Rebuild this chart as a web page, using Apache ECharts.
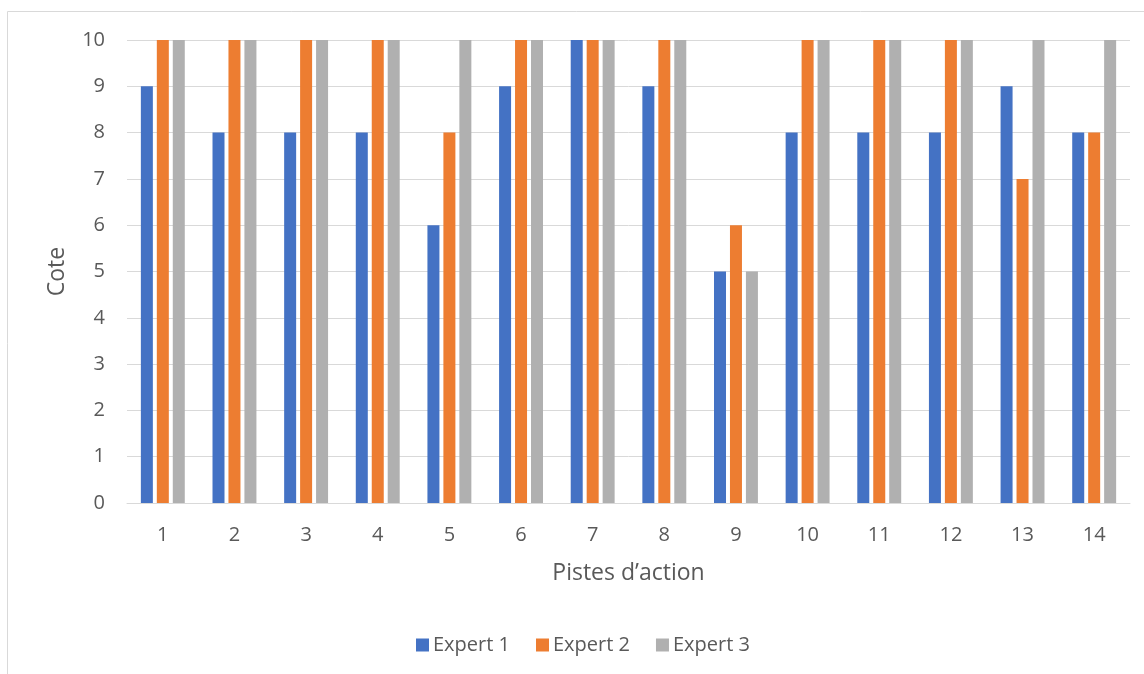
<!DOCTYPE html>
<html>
<head>
<meta charset="utf-8">
<script src="https://cdn.jsdelivr.net/npm/echarts@6/dist/echarts.min.js"></script>
<style>html,body{margin:0;padding:0;background:#fff;}#c{width:1144px;height:674px;}</style>
</head>
<body>
<div id="c"></div>
<script>
const categories = ['1','2','3','4','5','6','7','8','9','10','11','12','13','14'];
const expert1 = [9,8,8,8,6,9,10,9,5,8,8,8,9,8];
const expert2 = [10,10,10,10,8,10,10,10,6,10,10,10,7,8];
const expert3 = [10,10,10,10,10,10,10,10,5,10,10,10,10,10];
const seriesNames = ['Expert 1','Expert 2','Expert 3'];
const colors = ['#4472C4','#ED7D31','#B0B0B0'];

const chart = echarts.init(document.getElementById('c'), null, {renderer:'canvas'});
const font = 'Open Sans';
const txt = '#595959';
chart.setOption({
  animation:false,
  color: colors,
  textStyle:{fontFamily:font},
  graphic:[{type:'rect', shape:{x:7.5,y:11.5,width:1300,height:800}, style:{fill:'none',stroke:'#d9d9d9',lineWidth:1}, silent:true, z:-10}],
  grid:{left:127,right:14,top:40,bottom:171,containLabel:false},
  legend:{top:630,left:411,itemWidth:13,itemHeight:13,itemGap:26,icon:'rect',
    textStyle:{color:txt,fontSize:20,fontFamily:font,padding:[0,0,0,-1]},data:seriesNames},
  xAxis:{type:'category',data:categories,
    name:'Pistes d’action',nameLocation:'middle',nameGap:59,
    nameTextStyle:{color:txt,fontSize:23,fontFamily:font},
    axisLine:{lineStyle:{color:'#d9d9d9',width:1}},axisTick:{show:false},
    axisLabel:{color:txt,fontSize:20,margin:22,fontFamily:font}},
  yAxis:{type:'value',min:0,max:10,interval:1,
    name:'Cote',nameLocation:'middle',nameGap:58,nameRotate:90,
    nameTextStyle:{color:txt,fontSize:23,fontFamily:font},
    axisLine:{show:false},axisTick:{show:false},
    splitLine:{lineStyle:{color:'#d9d9d9',width:1}},
    axisLabel:{color:txt,fontSize:20,margin:22,fontFamily:font}},
  series:[
    {name:seriesNames[0],type:'bar',data:expert1,barWidth:12,barGap:'33%'},
    {name:seriesNames[1],type:'bar',data:expert2,barWidth:12,barGap:'33%'},
    {name:seriesNames[2],type:'bar',data:expert3,barWidth:12,barGap:'33%'}
  ]
});
</script>
</body>
</html>
